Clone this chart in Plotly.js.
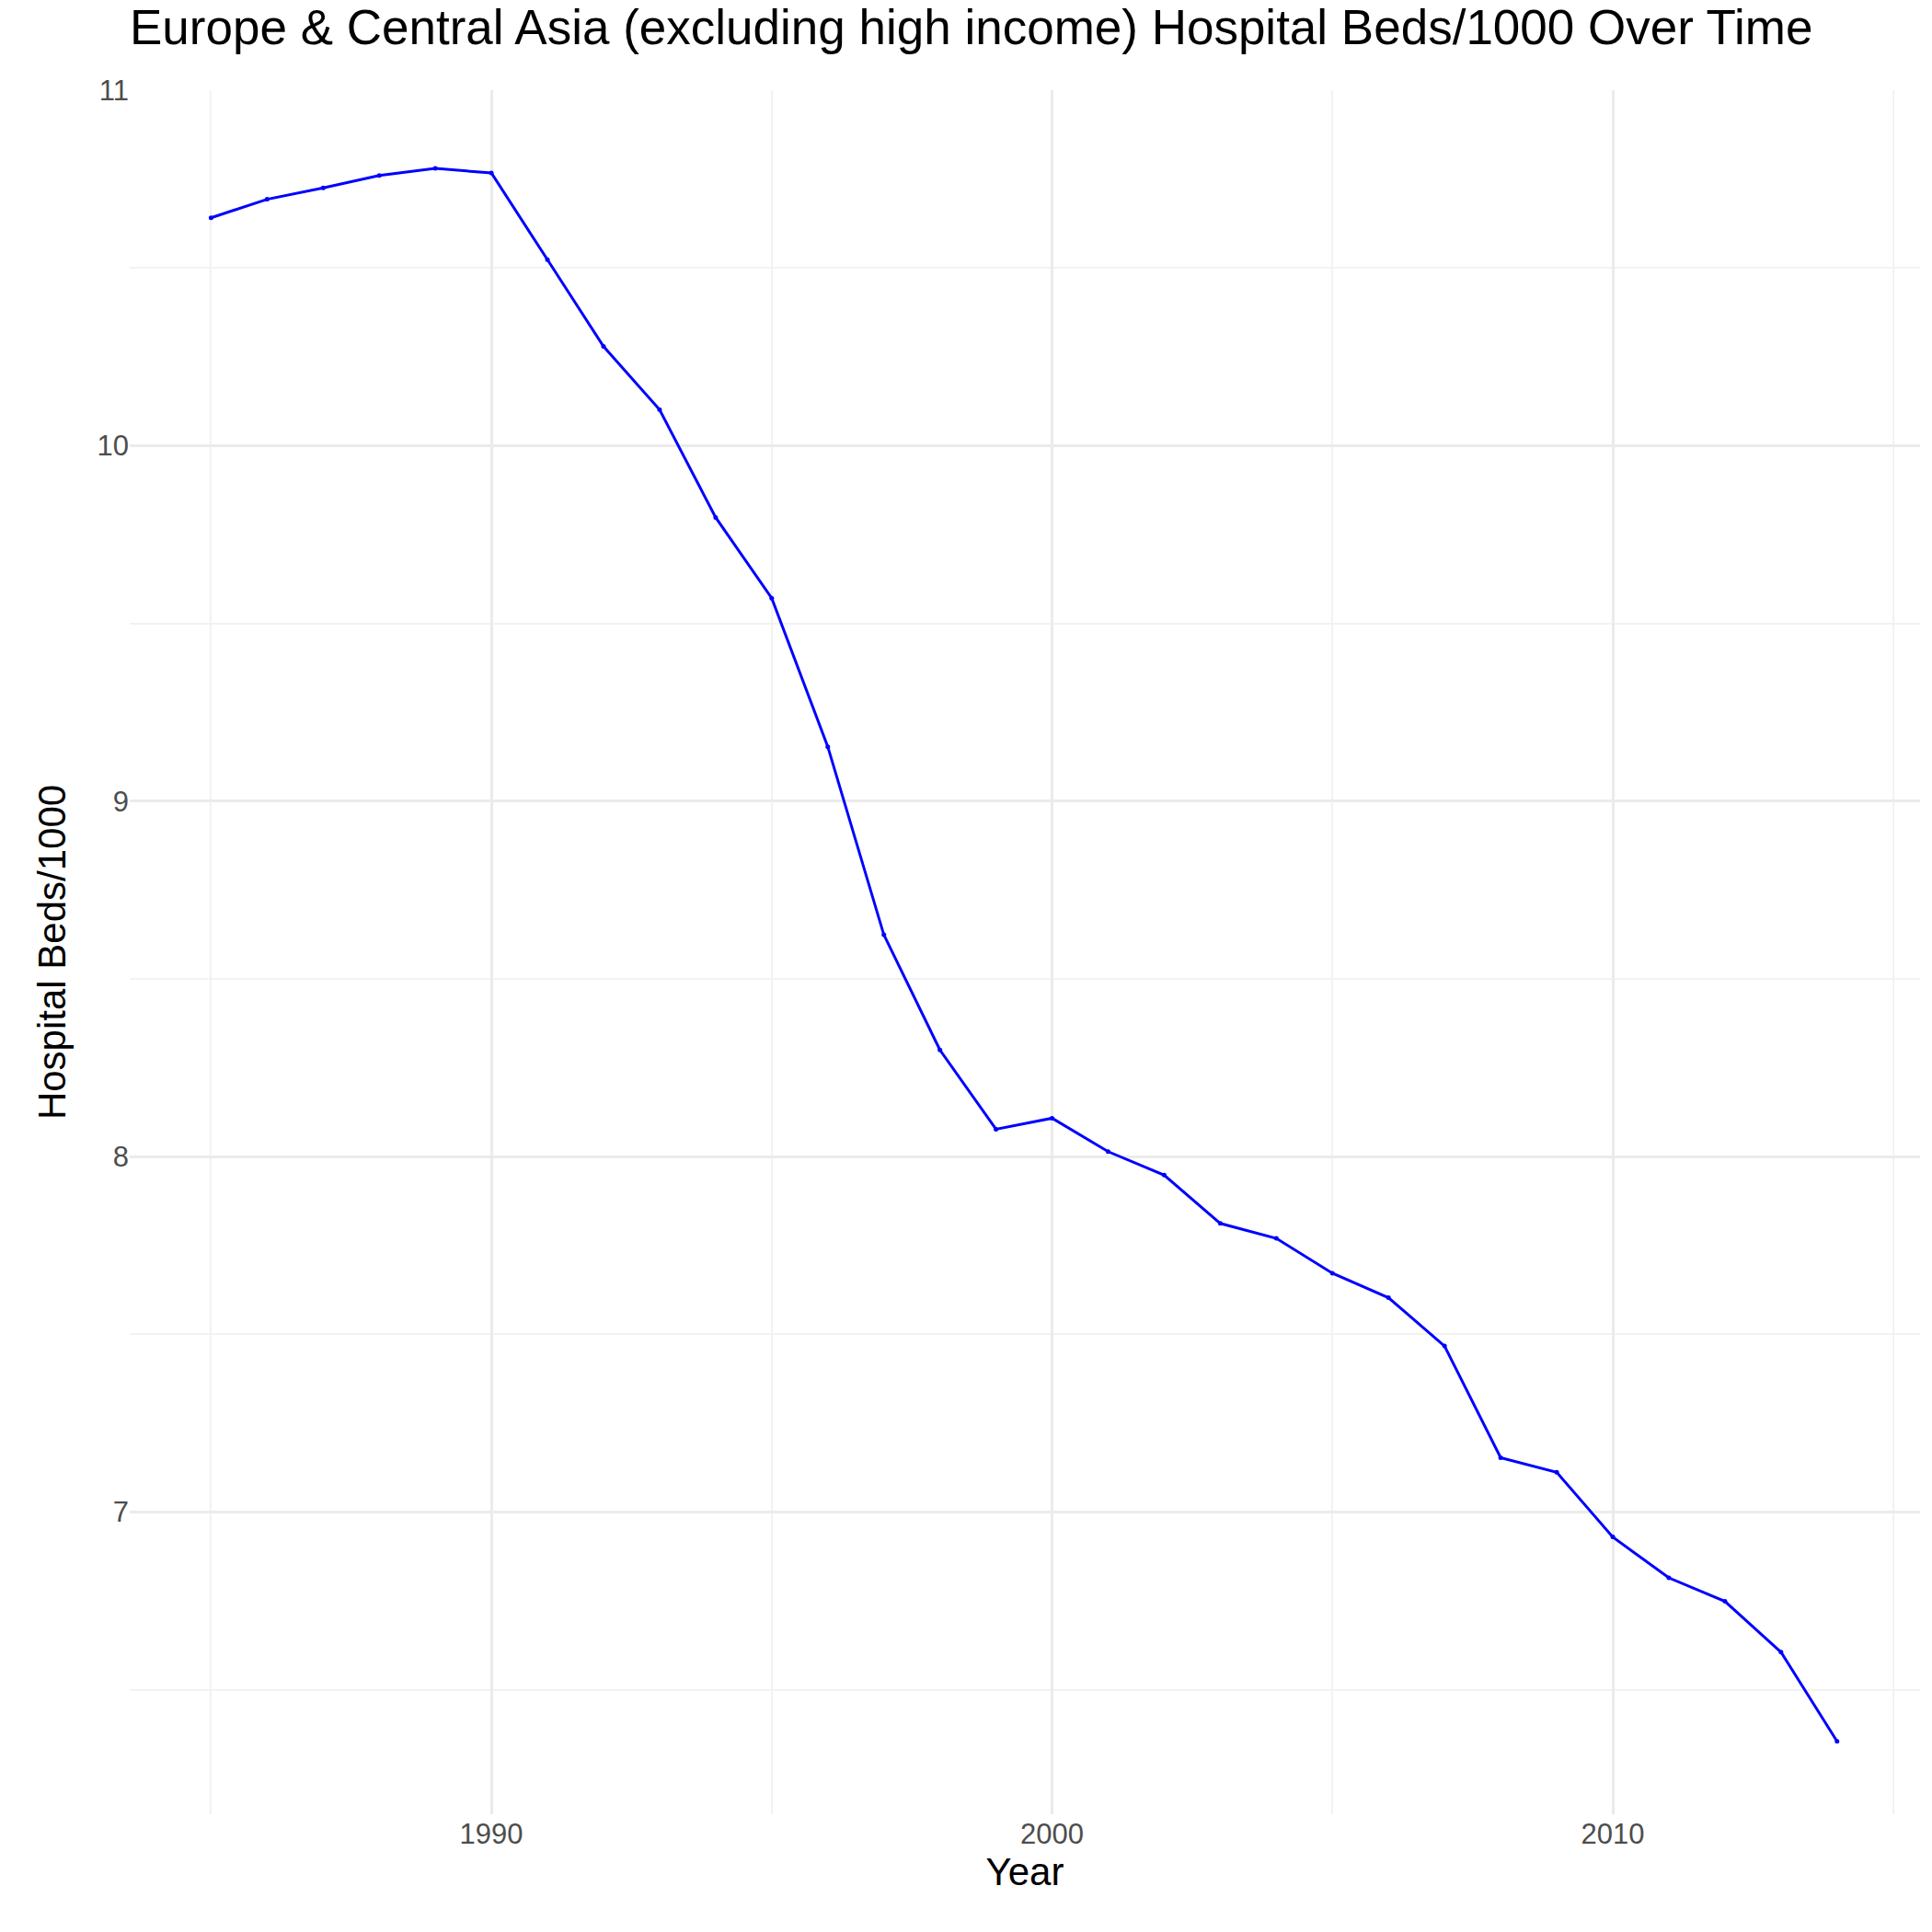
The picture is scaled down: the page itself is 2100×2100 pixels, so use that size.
<!DOCTYPE html>
<html>
<head>
<meta charset="utf-8">
<script src="https://cdn.plot.ly/plotly-3.0.1.min.js"></script>
<style>html,body{margin:0;padding:0;background:#fff}</style>
</head>
<body>
<div id="chart" style="width:2100px;height:2100px"></div>
<script>
// Values
const years = [1985, 1986, 1987, 1988, 1989, 1990, 1991, 1992, 1993, 1994,
  1995, 1996, 1997, 1998, 1999, 2000, 2001, 2002, 2003, 2004,
  2005, 2006, 2007, 2008, 2009, 2010, 2011, 2012, 2013, 2014];
const beds = [10.641, 10.693, 10.725, 10.760, 10.780, 10.767, 10.523, 10.279, 10.101, 9.798,
  9.571, 9.153, 8.624, 8.300, 8.077, 8.108, 8.014, 7.948, 7.812, 7.770,
  7.672, 7.603, 7.467, 7.153, 7.112, 6.930, 6.815, 6.749, 6.606, 6.355];

const gridMajor = '#ebebeb';
const gridMinor = '#f2f2f2';

const trace = {
  x: years,
  y: beds,
  mode: 'lines+markers',
  line: { color: '#0000ff', width: 3 },
  marker: { color: '#0000ff', size: 5 },
  hoverinfo: 'x+y'
};

const layout = {
  width: 2100,
  height: 2100,
  paper_bgcolor: '#fff',
  plot_bgcolor: '#fff',
  margin: { l: 141, r: 13, t: 98, b: 128 },
  font: { family: 'Arial, "Liberation Sans", sans-serif', color: '#000' },
  title: {
    text: 'Europe & Central Asia (excluding high income) Hospital Beds/1000 Over Time',
    font: { size: 53, color: '#000' },
    x: 0, xanchor: 'left', xref: 'paper', y: 0.995, yanchor: 'top'
  },
  xaxis: {
    range: [1983.55, 2015.48],
    tickvals: [1990, 2000, 2010],
    ticks: '',
    showline: false,
    zeroline: false,
    gridcolor: gridMajor,
    gridwidth: 2.5,
    minor: { dtick: 5, tick0: 1985, showgrid: true, gridcolor: gridMinor, gridwidth: 1.5 },
    tickfont: { size: 31, color: '#4d4d4d' },
    title: { text: 'Year', font: { size: 42, color: '#000' }, standoff: 6 }
  },
  yaxis: {
    range: [6.15, 11.0],
    tickvals: [7, 8, 9, 10, 11],
    ticks: '',
    showline: false,
    zeroline: false,
    gridcolor: gridMajor,
    gridwidth: 2.5,
    minor: { dtick: 0.5, tick0: 6.5, showgrid: true, gridcolor: gridMinor, gridwidth: 1.5 },
    tickfont: { size: 31, color: '#4d4d4d' },
    title: { text: 'Hospital Beds/1000', font: { size: 42, color: '#000' }, standoff: 20 }
  },
  showlegend: false
};

Plotly.newPlot('chart', [trace], layout, { displayModeBar: false });
</script>
</body>
</html>
